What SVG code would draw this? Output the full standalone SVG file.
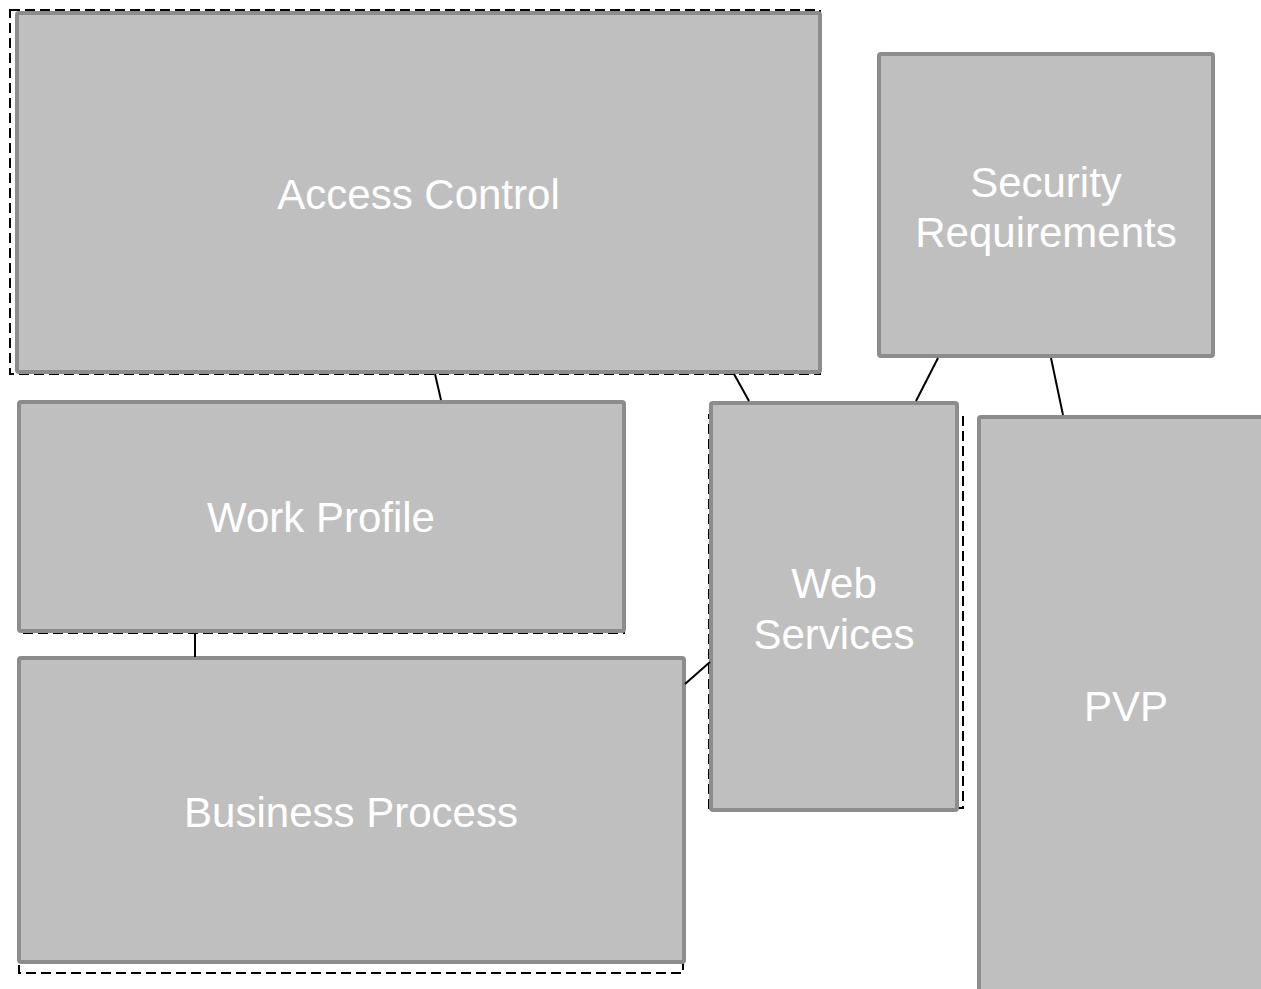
<svg xmlns="http://www.w3.org/2000/svg" width="1261" height="989" viewBox="0 0 1261 989">
<style>
.node{fill:#bfbfbf;stroke:#8c8c8c;stroke-width:4}
.dash{fill:none;stroke:#000;stroke-width:2;stroke-dasharray:10,5}
.lbl{font-family:"Liberation Sans",Arial,sans-serif;font-size:42px;fill:#fff;text-anchor:middle}
.conn line{stroke:#000;stroke-width:2}
</style>
<rect width="1261" height="989" fill="#fff"/>
<g id="access-control">
<rect class="dash" x="10" y="10" width="810" height="364"/>
<rect class="node" x="17" y="13" width="803" height="359" rx="2"/>
<text class="lbl" x="418.5" y="209">Access Control</text>
</g>
<g id="security-requirements">
<rect class="node" x="879" y="54" width="334" height="302" rx="2"/>
<text class="lbl" x="1046" y="197">Security</text>
<text class="lbl" x="1046" y="247">Requirements</text>
</g>
<g id="work-profile">
<rect class="dash" x="19" y="404" width="605" height="229"/>
<rect class="node" x="19" y="402" width="605" height="229" rx="2"/>
<text class="lbl" x="321" y="532">Work Profile</text>
</g>
<g id="business-process">
<rect class="dash" x="19" y="664" width="664" height="309"/>
<rect class="node" x="19" y="658" width="665" height="304" rx="2"/>
<text class="lbl" x="351" y="827">Business Process</text>
</g>
<g id="web-services">
<rect class="dash" x="709" y="415" width="254" height="393"/>
<rect class="node" x="711" y="403" width="246" height="407" rx="2"/>
<text class="lbl" x="834" y="598">Web</text>
<text class="lbl" x="834" y="649">Services</text>
</g>
<g id="pvp">
<rect class="node" x="979" y="417" width="300" height="590" rx="2"/>
<text class="lbl" x="1126" y="721">PVP</text>
</g>
<g class="conn" id="connectors">
<line x1="435" y1="374" x2="441" y2="400"/>
<line x1="734" y1="374" x2="749" y2="401"/>
<line x1="938" y1="358" x2="916" y2="401"/>
<line x1="1051" y1="358" x2="1063" y2="415"/>
<line x1="195" y1="633" x2="195" y2="657"/>
<line x1="685" y1="684" x2="710" y2="662"/>
</g>
</svg>
